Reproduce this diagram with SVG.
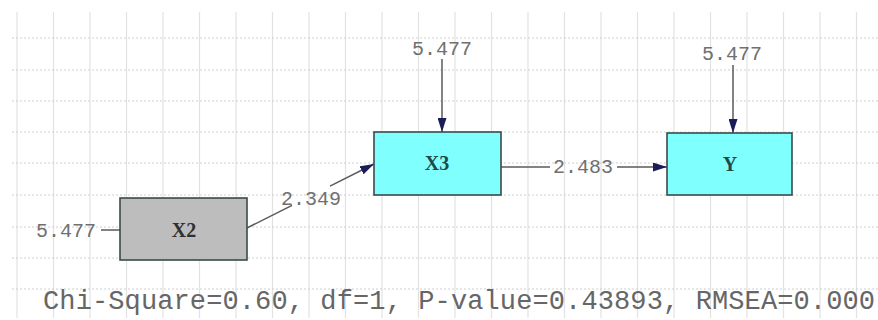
<svg xmlns="http://www.w3.org/2000/svg" width="878" height="320" viewBox="0 0 878 320">
<style>
.vg{stroke:#e2e2e2;stroke-width:1.2}
.hg{stroke:#cfcfcf;stroke-width:1.2;stroke-dasharray:2 2}
.box{stroke:#3a4a4a;stroke-width:1.6}
.cy{fill:#80ffff}
.gr{fill:#bdbdbd}
.lab{font-family:"Liberation Serif","Times New Roman",serif;font-size:20px;font-weight:bold;text-anchor:middle}
.num{font-family:"Liberation Mono","Courier New",monospace;font-size:20px;fill:#707070;text-anchor:middle}
.stat{font-family:"Liberation Mono","Courier New",monospace;font-size:27px;fill:#666666}
.ln{stroke:#5a5a5a;stroke-width:1.5;fill:none}
</style>
<defs>
<marker id="ah" viewBox="0 0 14 9" refX="14" refY="4.5" markerWidth="14" markerHeight="9" markerUnits="userSpaceOnUse" orient="auto">
<path d="M0,0 L14,4.5 L0,9 z" fill="#1c1c5a"/>
</marker>
</defs>
<rect width="878" height="320" fill="#ffffff"/>
<g id="grid">
<g class="vg">
<line x1="17" y1="12" x2="17" y2="318"/>
<line x1="53.5" y1="12" x2="53.5" y2="318"/>
<line x1="90" y1="12" x2="90" y2="318"/>
<line x1="126.5" y1="12" x2="126.5" y2="318"/>
<line x1="163" y1="12" x2="163" y2="318"/>
<line x1="199.5" y1="12" x2="199.5" y2="318"/>
<line x1="236" y1="12" x2="236" y2="318"/>
<line x1="272.5" y1="12" x2="272.5" y2="318"/>
<line x1="309" y1="12" x2="309" y2="318"/>
<line x1="345.5" y1="12" x2="345.5" y2="318"/>
<line x1="382" y1="12" x2="382" y2="318"/>
<line x1="418.5" y1="12" x2="418.5" y2="318"/>
<line x1="455" y1="12" x2="455" y2="318"/>
<line x1="491.5" y1="12" x2="491.5" y2="318"/>
<line x1="528" y1="12" x2="528" y2="318"/>
<line x1="564.5" y1="12" x2="564.5" y2="318"/>
<line x1="601" y1="12" x2="601" y2="318"/>
<line x1="637.5" y1="12" x2="637.5" y2="318"/>
<line x1="674" y1="12" x2="674" y2="318"/>
<line x1="710.5" y1="12" x2="710.5" y2="318"/>
<line x1="747" y1="12" x2="747" y2="318"/>
<line x1="783.5" y1="12" x2="783.5" y2="318"/>
<line x1="820" y1="12" x2="820" y2="318"/>
<line x1="856.5" y1="12" x2="856.5" y2="318"/>
</g>
<g class="hg">
<line x1="12" y1="38" x2="878" y2="38"/>
<line x1="12" y1="70" x2="878" y2="70"/>
<line x1="12" y1="101" x2="878" y2="101"/>
<line x1="12" y1="132" x2="878" y2="132"/>
<line x1="12" y1="163" x2="878" y2="163"/>
<line x1="12" y1="195" x2="878" y2="195"/>
<line x1="12" y1="227" x2="878" y2="227"/>
<line x1="12" y1="258" x2="878" y2="258"/>
<line x1="12" y1="289" x2="878" y2="289"/>
</g>
</g>
<g id="connectors">
<line class="ln" x1="101" y1="230" x2="120" y2="230"/>
<text class="num" x="66" y="237">5.477</text>
<line class="ln" x1="442" y1="59" x2="442" y2="132" marker-end="url(#ah)"/>
<text class="num" x="442" y="55">5.477</text>
<line class="ln" x1="733" y1="65" x2="733" y2="133" marker-end="url(#ah)"/>
<text class="num" x="732" y="60">5.477</text>
<line class="ln" x1="247" y1="228" x2="292" y2="205.3"/>
<line class="ln" x1="330" y1="186.2" x2="374" y2="164" marker-end="url(#ah)"/>
<text class="num" x="311" y="205">2.349</text>
<line class="ln" x1="501" y1="167" x2="550" y2="167"/>
<line class="ln" x1="617" y1="167" x2="667" y2="167" marker-end="url(#ah)"/>
<text class="num" x="583" y="173">2.483</text>
</g>
<g id="X2">
<rect class="box gr" x="120" y="198" width="127" height="62"/>
<text class="lab" x="184" y="237" fill="#303030">X2</text>
</g>
<g id="X3">
<rect class="box cy" x="374" y="132" width="127" height="63"/>
<text class="lab" x="437" y="170" fill="#1f4a4a">X3</text>
</g>
<g id="Y">
<rect class="box cy" x="667" y="133" width="125" height="62"/>
<text class="lab" x="730" y="171" fill="#1f4a4a">Y</text>
</g>
<text class="stat" x="43" y="309" textLength="832" lengthAdjust="spacing">Chi-Square=0.60, df=1, P-value=0.43893, RMSEA=0.000</text>
</svg>
